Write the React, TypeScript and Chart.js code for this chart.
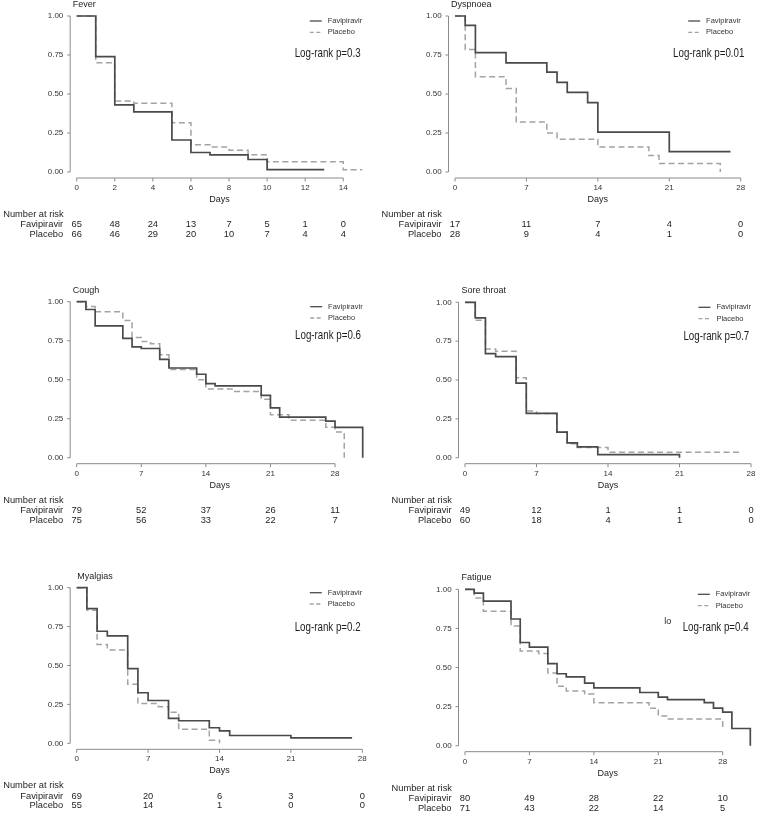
import React, { useEffect, useRef } from 'react';
import { Chart, registerables } from 'chart.js';
Chart.register(...registerables);

const W = 759;
const H = 815;

// ---------- shared ticks / labels ----------
const yTickValues = [0, 0.25, 0.5, 0.75, 1];
const yTickLabels = ['0.00', '0.25', '0.50', '0.75', '1.00'];
const groupNames = ['Favipiravir', 'Placebo'];
const riskTitle = 'Number at risk';
const xTitle = 'Days';
const weekTicks = [0, 7, 14, 21, 28];

// ---------- Fever ----------
const feverTicks = [0, 2, 4, 6, 8, 10, 12, 14];
const feverFavT = [0, 1, 2, 3, 5, 6, 7, 9, 10, 13];
const feverFavS = [1, 0.74, 0.43, 0.385, 0.205, 0.125, 0.11, 0.08, 0.015, 0.015];
const feverPlaT = [0, 1, 2, 3, 5, 6, 7, 8, 9, 10, 14, 15];
const feverPlaS = [1, 0.7, 0.455, 0.44, 0.315, 0.175, 0.16, 0.14, 0.11, 0.065, 0.015, 0.015];
const feverRiskFav = [65, 48, 24, 13, 7, 5, 1, 0];
const feverRiskPla = [66, 46, 29, 20, 10, 7, 4, 4];

// ---------- Dyspnoea ----------
const dyspFavT = [0, 1, 2, 5, 9, 10, 11, 13, 14, 21, 27];
const dyspFavS = [1, 0.94, 0.765, 0.7, 0.64, 0.575, 0.51, 0.445, 0.255, 0.13, 0.13];
const dyspPlaT = [0, 1, 2, 5, 6, 9, 10, 14, 19, 20, 26];
const dyspPlaS = [1, 0.785, 0.61, 0.535, 0.32, 0.25, 0.21, 0.16, 0.105, 0.055, 0];
const dyspRiskFav = [17, 11, 7, 4, 0];
const dyspRiskPla = [28, 9, 4, 1, 0];

// ---------- Cough ----------
const coughFavT = [0, 1, 2, 5, 6, 7, 9, 10, 13, 14, 15, 20, 21, 22, 27, 28, 31];
const coughFavS = [1, 0.95, 0.845, 0.765, 0.71, 0.7, 0.63, 0.575, 0.535, 0.475, 0.46, 0.4, 0.32, 0.26, 0.235, 0.195, 0];
const coughPlaT = [0, 1, 2, 5, 6, 7, 8, 9, 10, 13, 14, 17, 20, 21, 23, 27, 28, 29];
const coughPlaS = [1, 0.97, 0.935, 0.88, 0.77, 0.745, 0.73, 0.66, 0.565, 0.5, 0.44, 0.425, 0.375, 0.275, 0.24, 0.195, 0.165, 0];
const coughRiskFav = [79, 52, 37, 26, 11];
const coughRiskPla = [75, 56, 33, 22, 7];

// ---------- Sore throat ----------
const soreFavT = [0, 1, 2, 3, 5, 6, 9, 10, 11, 13, 21, 21];
const soreFavS = [1, 0.9, 0.67, 0.65, 0.48, 0.285, 0.165, 0.095, 0.07, 0.02, 0.02, 0];
const sorePlaT = [0, 1, 2, 3, 5, 6, 7, 9, 10, 11, 14, 27];
const sorePlaS = [1, 0.885, 0.7, 0.685, 0.515, 0.3, 0.285, 0.165, 0.09, 0.065, 0.035, 0.035];
const soreRiskFav = [49, 12, 1, 1, 0];
const soreRiskPla = [60, 18, 4, 1, 0];

// ---------- Myalgias ----------
const myalFavT = [0, 1, 2, 3, 5, 6, 7, 9, 10, 13, 14, 15, 21, 27];
const myalFavS = [1, 0.865, 0.72, 0.69, 0.48, 0.325, 0.275, 0.16, 0.145, 0.1, 0.08, 0.05, 0.035, 0.035];
const myalPlaT = [0, 1, 2, 3, 5, 6, 8, 9, 10, 13, 14];
const myalPlaS = [1, 0.855, 0.635, 0.6, 0.38, 0.255, 0.235, 0.2, 0.09, 0.02, 0];
const myalRiskFav = [69, 20, 6, 3, 0];
const myalRiskPla = [55, 14, 1, 0, 0];

// ---------- Fatigue ----------
const fatFavT = [0, 1, 2, 5, 6, 7, 9, 10, 11, 13, 14, 19, 21, 22, 26, 27, 28, 29, 31];
const fatFavS = [1, 0.975, 0.925, 0.81, 0.66, 0.63, 0.525, 0.46, 0.44, 0.4, 0.37, 0.34, 0.31, 0.295, 0.275, 0.24, 0.215, 0.11, 0];
const fatPlaT = [0, 1, 2, 5, 6, 8, 9, 10, 11, 13, 14, 20, 21, 22, 28];
const fatPlaS = [1, 0.945, 0.86, 0.765, 0.605, 0.59, 0.465, 0.38, 0.35, 0.33, 0.275, 0.24, 0.19, 0.17, 0.1];
const fatRiskFav = [80, 49, 28, 22, 10];
const fatRiskPla = [71, 43, 22, 14, 5];

const titles = ['Fever', 'Dyspnoea', 'Cough', 'Sore throat', 'Myalgias', 'Fatigue'];
const logRankTexts = ['Log-rank p=0.3', 'Log-rank p=0.01', 'Log-rank p=0.6', 'Log-rank p=0.7', 'Log-rank p=0.2', 'Log-rank p=0.4'];
const xMaxes = [15, 28, 31, 28, 28, 31];

// ---------- layout (pixel geometry, styles) ----------
const layouts = [
  { L: 76.7, R: 362.3, T: 16, B: 172, titleDx: -4, lrDy: 37.3 },
  { L: 455, R: 740.7, T: 16, B: 172, titleDx: -4, lrDy: 37.3 },
  { L: 76.7, R: 362.7, T: 301.7, B: 457.7, titleDx: -4, lrDy: 34 },
  { L: 465, R: 751, T: 302.3, B: 457.7, titleDx: -3.5, lrDy: 34.4 },
  { L: 76.7, R: 362.3, T: 587.7, B: 743.3, titleDx: 0.5, lrDy: 40 },
  { L: 465, R: 750.3, T: 589.3, B: 745.7, titleDx: -3.5, lrDy: 38.4 },
];

const FAV_COLOR = '#4a4a4a';
const PLA_COLOR = '#a3a3a3';
const AXIS_COLOR = '#8a8a8a';
const TEXT_COLOR = '#1e1e1e';
const SANS = "'Liberation Sans', Arial, Helvetica, sans-serif";

const panels = [
  { xTicks: feverTicks, fav: [feverFavT, feverFavS], pla: [feverPlaT, feverPlaS], risk: [feverRiskFav, feverRiskPla] },
  { xTicks: weekTicks, fav: [dyspFavT, dyspFavS], pla: [dyspPlaT, dyspPlaS], risk: [dyspRiskFav, dyspRiskPla] },
  { xTicks: weekTicks, fav: [coughFavT, coughFavS], pla: [coughPlaT, coughPlaS], risk: [coughRiskFav, coughRiskPla] },
  { xTicks: weekTicks, fav: [soreFavT, soreFavS], pla: [sorePlaT, sorePlaS], risk: [soreRiskFav, soreRiskPla] },
  { xTicks: weekTicks, fav: [myalFavT, myalFavS], pla: [myalPlaT, myalPlaS], risk: [myalRiskFav, myalRiskPla] },
  { xTicks: weekTicks, fav: [fatFavT, fatFavS], pla: [fatPlaT, fatPlaS], risk: [fatRiskFav, fatRiskPla] },
].map((p, i) => ({ ...p, title: titles[i], logRank: logRankTexts[i], xMax: xMaxes[i], lay: layouts[i], extra: i === 5 ? 'lo' : null }));

function toXY(t: number[], s: number[]) {
  return t.map((x, i) => ({ x, y: s[i] }));
}

function makeDecor(p: any, idx: number) {
  return {
    id: 'kmDecor' + idx,
    afterDraw(chart: any) {
      const ctx = chart.ctx;
      const xs = chart.scales.x;
      const ys = chart.scales.y;
      const { left: L, right: R, top: T, bottom: B } = chart.chartArea;
      ctx.save();

      // y axis
      const ax = L - 6.5;
      ctx.strokeStyle = AXIS_COLOR;
      ctx.lineWidth = 1;
      ctx.setLineDash([]);
      ctx.beginPath();
      ctx.moveTo(ax, ys.getPixelForValue(1));
      ctx.lineTo(ax, ys.getPixelForValue(0));
      yTickValues.forEach((v) => {
        const y = ys.getPixelForValue(v);
        ctx.moveTo(ax, y);
        ctx.lineTo(ax - 3, y);
      });
      // x axis
      const ay = B + 6;
      const ticks: number[] = p.xTicks;
      ctx.moveTo(xs.getPixelForValue(ticks[0]), ay);
      ctx.lineTo(xs.getPixelForValue(ticks[ticks.length - 1]), ay);
      ticks.forEach((v) => {
        const x = xs.getPixelForValue(v);
        ctx.moveTo(x, ay);
        ctx.lineTo(x, ay + 3.5);
      });
      ctx.stroke();

      // tick labels
      ctx.fillStyle = '#333';
      ctx.font = `8px ${SANS}`;
      ctx.textBaseline = 'middle';
      ctx.textAlign = 'right';
      yTickValues.forEach((v, i) => {
        ctx.fillText(yTickLabels[i], L - 13.4, ys.getPixelForValue(v));
      });
      ctx.textAlign = 'center';
      ticks.forEach((v) => {
        ctx.fillText(String(v), xs.getPixelForValue(v), ay + 9.8);
      });

      // axis title
      ctx.fillStyle = TEXT_COLOR;
      ctx.font = `9px ${SANS}`;
      ctx.fillText(xTitle, (L + R) / 2, ay + 21.5);

      // panel title
      ctx.textAlign = 'left';
      ctx.font = `9px ${SANS}`;
      ctx.fillText(p.title, L + p.lay.titleDx, T - 11.5);

      // legend
      const ly = [T + 5, T + 16.3];
      ctx.lineWidth = 1.3;
      ctx.strokeStyle = FAV_COLOR;
      ctx.beginPath();
      ctx.moveTo(R - 52.5, ly[0]);
      ctx.lineTo(R - 40.5, ly[0]);
      ctx.stroke();
      ctx.strokeStyle = PLA_COLOR;
      ctx.setLineDash([4, 2.5]);
      ctx.beginPath();
      ctx.moveTo(R - 52.5, ly[1]);
      ctx.lineTo(R - 40.5, ly[1]);
      ctx.stroke();
      ctx.setLineDash([]);
      ctx.fillStyle = '#333';
      ctx.font = `7.5px ${SANS}`;
      ctx.fillText(groupNames[0], R - 34.6, ly[0]);
      ctx.fillText(groupNames[1], R - 34.6, ly[1]);

      // log-rank text (condensed)
      ctx.fillStyle = TEXT_COLOR;
      ctx.font = `13px ${SANS}`;
      ctx.save();
      ctx.translate(R - 67.6, T + p.lay.lrDy);
      ctx.scale(0.75, 1);
      ctx.fillText(p.logRank, 0, 0);
      ctx.restore();
      if (p.extra) {
        ctx.font = `9px ${SANS}`;
        ctx.fillText(p.extra, R - 86, T + p.lay.lrDy - 6);
      }

      // risk table
      ctx.font = `9.3px ${SANS}`;
      ctx.fillStyle = TEXT_COLOR;
      ctx.textAlign = 'left';
      ctx.fillText(riskTitle, L - 73.5, ay + 36.5);
      ctx.textAlign = 'right';
      ctx.fillText(groupNames[0], L - 13.5, ay + 46.8);
      ctx.fillText(groupNames[1], L - 13.5, ay + 56.3);
      ctx.textAlign = 'center';
      ticks.forEach((v, i) => {
        const x = xs.getPixelForValue(v);
        ctx.fillText(String(p.risk[0][i]), x, ay + 46.8);
        ctx.fillText(String(p.risk[1][i]), x, ay + 56.3);
      });

      ctx.restore();
    },
  };
}

function KMPanel({ p, idx }: { p: any; idx: number }) {
  const ref = useRef<HTMLCanvasElement | null>(null);
  useEffect(() => {
    if (!ref.current) return;
    const lay = p.lay;
    const chart = new Chart(ref.current, {
      type: 'line',
      data: {
        datasets: [
          {
            label: groupNames[0],
            data: toXY(p.fav[0], p.fav[1]),
            stepped: true,
            borderColor: FAV_COLOR,
            borderWidth: 1.7,
            pointRadius: 0,
            fill: false,
            clip: false,
          } as any,
          {
            label: groupNames[1],
            data: toXY(p.pla[0], p.pla[1]),
            stepped: true,
            borderColor: PLA_COLOR,
            borderWidth: 1.5,
            borderDash: [6, 3.5],
            pointRadius: 0,
            fill: false,
            clip: false,
          } as any,
        ],
      },
      options: {
        animation: false,
        responsive: false,
        events: [],
        layout: { padding: { left: lay.L, right: W - lay.R, top: lay.T, bottom: H - lay.B } },
        scales: {
          x: { type: 'linear', min: 0, max: p.xMax, display: false },
          y: { type: 'linear', min: 0, max: 1, display: false },
        },
        plugins: { legend: { display: false }, tooltip: { enabled: false }, title: { display: false } },
      },
      plugins: [makeDecor(p, idx)],
    });
    return () => chart.destroy();
  }, [p, idx]);
  return (
    <canvas
      ref={ref}
      width={W}
      height={H}
      style={{ position: 'absolute', left: 0, top: 0, width: W, height: H }}
    />
  );
}

export default function App() {
  return (
    <div style={{ position: 'absolute', left: 0, top: 0, width: W, height: H, background: '#fff', overflow: 'hidden' }}>
      {panels.map((p, i) => (
        <KMPanel key={i} p={p} idx={i} />
      ))}
    </div>
  );
}
